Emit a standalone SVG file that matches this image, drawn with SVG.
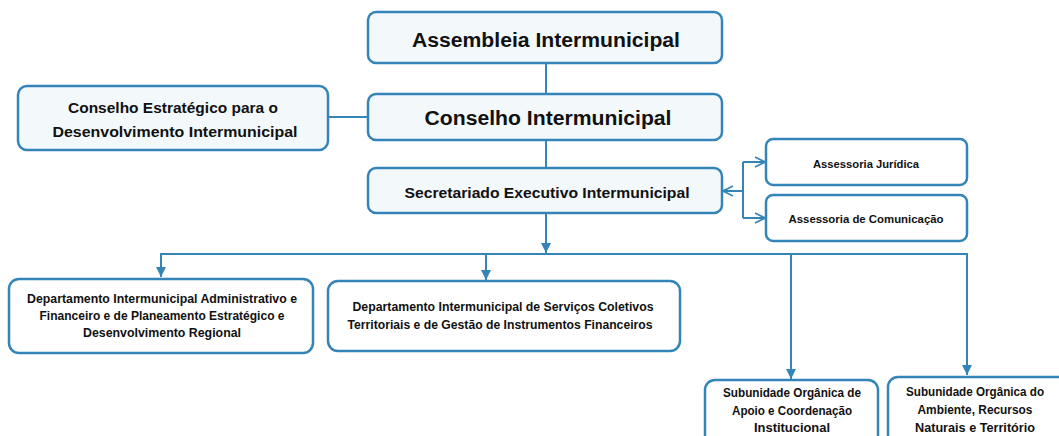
<svg xmlns="http://www.w3.org/2000/svg" width="1059" height="436" viewBox="0 0 1059 436">
<style>
.box{stroke:#3584b8;stroke-width:2.5;}
.top{fill:#f3f8fb;}
.low{fill:#ffffff;}
.t{font-family:"Liberation Sans",Arial,sans-serif;font-weight:bold;fill:#111;text-anchor:middle;}
.ln{fill:none;stroke:#3584b8;stroke-width:2;}
</style>
<defs>
<marker id="tri" viewBox="0 0 10 10" refX="10" refY="5" markerWidth="5" markerHeight="5" orient="auto" markerUnits="strokeWidth">
<path d="M0,0 L10,5 L0,10 z" fill="#3584b8"/>
</marker>
<marker id="open" viewBox="0 0 12 12" refX="11" refY="6" markerWidth="6" markerHeight="6" orient="auto" markerUnits="strokeWidth">
<path d="M1,1 L11,6 L1,11" fill="none" stroke="#3584b8" stroke-width="1.6"/>
</marker>
</defs>
<g id="connectors">
<line class="ln" x1="546" y1="63" x2="546" y2="94"/>
<line class="ln" x1="546" y1="140" x2="546" y2="168"/>
<line class="ln" x1="328" y1="117" x2="367" y2="117"/>
<line class="ln" x1="546" y1="213" x2="546" y2="253" marker-end="url(#tri)"/>
<polyline class="ln" points="161,254 967,254 967,375" marker-end="url(#tri)"/>
<line class="ln" x1="161" y1="253" x2="161" y2="277" marker-end="url(#tri)"/>
<line class="ln" x1="486" y1="254" x2="486" y2="280" marker-end="url(#tri)"/>
<line class="ln" x1="791" y1="254" x2="791" y2="379" marker-end="url(#tri)"/>
<line class="ln" x1="743" y1="191" x2="723" y2="191" marker-end="url(#open)"/>
<polyline class="ln" points="743,162 743,218"/>
<line class="ln" x1="743" y1="162" x2="765" y2="162" marker-end="url(#open)"/>
<line class="ln" x1="743" y1="218" x2="765" y2="218" marker-end="url(#open)"/>
</g>
<g id="assembleia">
<rect class="box top" x="368" y="12" width="354" height="51" rx="8"/>
<text class="t" x="546" y="47" font-size="20" textLength="268" lengthAdjust="spacingAndGlyphs">Assembleia Intermunicipal</text>
</g>
<g id="conselho">
<rect class="box top" x="368" y="94" width="354" height="46" rx="8"/>
<text class="t" x="548" y="125" font-size="20" textLength="247" lengthAdjust="spacingAndGlyphs">Conselho Intermunicipal</text>
</g>
<g id="conselho-estrategico">
<rect class="box top" x="18" y="86" width="310" height="64" rx="9"/>
<text class="t" x="173" y="113" font-size="15" textLength="210" lengthAdjust="spacingAndGlyphs">Conselho Estratégico para o</text>
<text class="t" x="175" y="137" font-size="15" textLength="245" lengthAdjust="spacingAndGlyphs">Desenvolvimento Intermunicipal</text>
</g>
<g id="secretariado">
<rect class="box top" x="368" y="168" width="354" height="45" rx="8"/>
<text class="t" x="547" y="198" font-size="15" textLength="285" lengthAdjust="spacingAndGlyphs">Secretariado Executivo Intermunicipal</text>
</g>
<g id="assessoria-juridica">
<rect class="box low" x="766" y="139" width="201" height="46" rx="7"/>
<text class="t" x="866" y="168" font-size="11.5" textLength="106" lengthAdjust="spacingAndGlyphs">Assessoria Jurídica</text>
</g>
<g id="assessoria-comunicacao">
<rect class="box low" x="766" y="195" width="201" height="46" rx="7"/>
<text class="t" x="866" y="223" font-size="11.5" textLength="155" lengthAdjust="spacingAndGlyphs">Assessoria de Comunicação</text>
</g>
<g id="dept1">
<rect class="box low" x="9" y="279" width="304" height="74" rx="10"/>
<text class="t" x="162" y="303" font-size="12" textLength="270" lengthAdjust="spacingAndGlyphs">Departamento Intermunicipal Administrativo e</text>
<text class="t" x="162" y="320" font-size="12" textLength="245" lengthAdjust="spacingAndGlyphs">Financeiro e de Planeamento Estratégico e</text>
<text class="t" x="162" y="337" font-size="12" textLength="158" lengthAdjust="spacingAndGlyphs">Desenvolvimento Regional</text>
</g>
<g id="dept2">
<rect class="box low" x="328" y="281" width="352" height="70" rx="10"/>
<text class="t" x="503" y="311" font-size="12" textLength="301" lengthAdjust="spacingAndGlyphs">Departamento Intermunicipal de Serviços Coletivos</text>
<text class="t" x="500" y="329" font-size="12" textLength="305" lengthAdjust="spacingAndGlyphs">Territoriais e de Gestão de Instrumentos Financeiros</text>
</g>
<g id="sub1">
<rect class="box low" x="705" y="380" width="173" height="70" rx="10"/>
<text class="t" x="792" y="397" font-size="12" textLength="138" lengthAdjust="spacingAndGlyphs">Subunidade Orgânica de</text>
<text class="t" x="792" y="415" font-size="12" textLength="120" lengthAdjust="spacingAndGlyphs">Apoio e Coordenação</text>
<text class="t" x="792" y="432" font-size="12" textLength="76" lengthAdjust="spacingAndGlyphs">Institucional</text>
</g>
<g id="sub2">
<rect class="box low" x="888" y="377" width="185" height="72" rx="10"/>
<text class="t" x="975" y="396" font-size="12" textLength="138" lengthAdjust="spacingAndGlyphs">Subunidade Orgânica do</text>
<text class="t" x="975" y="414" font-size="12" textLength="115" lengthAdjust="spacingAndGlyphs">Ambiente, Recursos</text>
<text class="t" x="975" y="432" font-size="12" textLength="120" lengthAdjust="spacingAndGlyphs">Naturais e Território</text>
</g>
</svg>
